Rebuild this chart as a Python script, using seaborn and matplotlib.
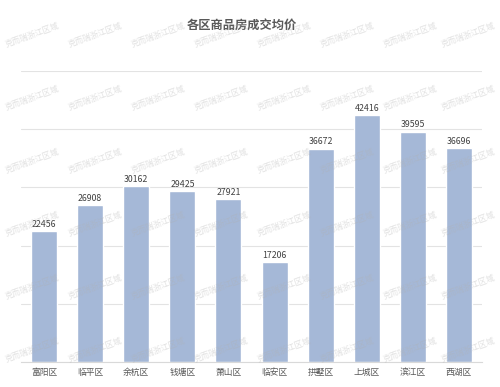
import matplotlib
matplotlib.use("Agg")
import matplotlib.pyplot as plt
import seaborn as sns
import pandas as pd
import numpy as np

districts = ["富阳区", "临平区", "余杭区", "钱塘区", "萧山区", "临安区", "拱墅区", "上城区", "滨江区", "西湖区"]
prices = [22456, 26908, 30162, 29425, 27921, 17206, 36672, 42416, 39595, 36696]
title = "各区商品房成交均价"
watermark = "克而瑞浙江区域"

sns.set_theme(style="white")
plt.rcParams['font.family'] = ['Noto Sans CJK SC', 'DejaVu Sans']

df = pd.DataFrame({"district": districts, "price": prices})

fig = plt.figure(figsize=(5.0, 3.87), dpi=100)
ax = fig.add_axes([0.042, 0.0646, 0.922, 0.752])

sns.barplot(data=df, x="district", y="price", color="#a5b8d7", width=0.565,
            saturation=1, ax=ax, zorder=2)

ax.set_xlim(-0.5, len(districts) - 0.5)
ax.set_ylim(0, 50000)
ax.set_yticks(np.arange(0, 50001, 10000))
ax.yaxis.grid(True, color="#e3e3e3", linewidth=0.8, zorder=0)
ax.set_yticklabels([])
ax.tick_params(axis="y", length=0)
ax.set_xlabel("")
ax.set_ylabel("")
for s in ["top", "right", "left"]:
    ax.spines[s].set_visible(False)
ax.spines["bottom"].set_color("#d9d9d9")
ax.spines["bottom"].set_linewidth(0.8)

ax.tick_params(axis="x", length=0, pad=4, labelsize=6.3, labelcolor="#595959")
ax.set_xticks(np.arange(-0.5, len(districts), 1.0), minor=True)
ax.tick_params(axis="x", which="minor", length=3, color="#d9d9d9", width=0.8, direction="out")

for c in ax.containers:
    ax.bar_label(c, labels=[str(v) for v in prices], padding=1.5, fontsize=6.3, color="#404040")

fig.text(0.484, 0.935, title, ha="center", va="center", fontsize=8.8,
         fontweight="bold", color="#595959")

# watermark
for yy in [35, 98, 161, 224, 287, 350]:
    for xx in [32, 95, 158, 221, 284, 347, 410, 468]:
        fig.text(xx / 500, 1 - yy / 387, watermark, ha="center", va="center",
                 rotation=20, fontsize=5.9, color="#b0b0b0", alpha=0.38, zorder=10)

fig.savefig("out.png", dpi=100, facecolor="white")
